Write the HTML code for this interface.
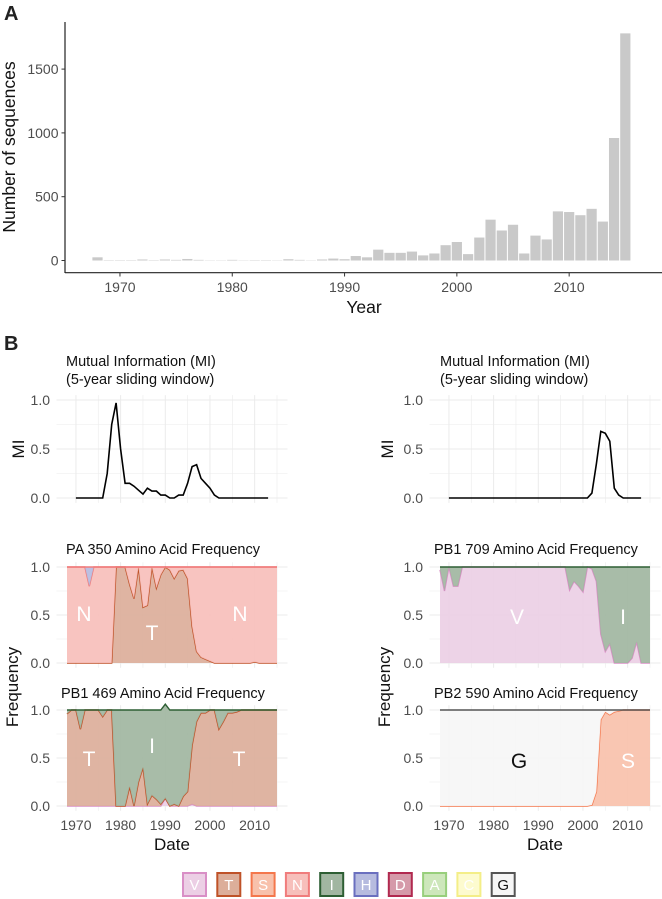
<!DOCTYPE html>
<html><head><meta charset="utf-8"><style>
html,body{margin:0;padding:0;background:#fff;}
svg{display:block;font-family:"Liberation Sans",Arial,sans-serif;}
</style></head><body>
<svg id="fig" width="662" height="899" viewBox="0 0 662 899" xmlns="http://www.w3.org/2000/svg"></svg>
<script>
// ---------- Panel A data ----------
const years = [];
for (let y = 1968; y <= 2015; y++) years.push(y);
const seqCounts = [25,3,3,3,8,3,8,5,12,5,2,2,5,2,3,3,2,10,5,2,8,15,10,35,25,85,60,60,70,40,55,120,145,50,180,320,235,280,55,195,165,385,380,355,405,305,960,1780];
const countTicks = [0,500,1000,1500];
const yearTicks = [1970,1980,1990,2000,2010];

// ---------- Panel B data ----------
const miYears = [];
for (let y = 1970; y <= 2013; y++) miYears.push(y);
const miLeft = [0,0,0,0,0,0,0,0.25,0.75,0.97,0.5,0.15,0.15,0.12,0.08,0.04,0.1,0.07,0.07,0.03,0.03,0,0,0.03,0.03,0.15,0.32,0.34,0.2,0.15,0.1,0.03,0,0,0,0,0,0,0,0,0,0,0,0];
const miRight = [0,0,0,0,0,0,0,0,0,0,0,0,0,0,0,0,0,0,0,0,0,0,0,0,0,0,0,0,0,0,0,0,0.05,0.35,0.68,0.66,0.58,0.1,0.03,0,0,0,0,0];
const freqTicks = [0,0.5,1];
const dateTicks = [1970,1980,1990,2000,2010];

// PA 350 (stack bottom->top: T, N, H)
const pa350T = [0,0,0,0,0,0,0,0,0,0,0,1,1,1,0.82,0.67,1,0.58,0.6,1,0.78,0.92,1,0.97,0.88,0.96,0.97,0.88,0.38,0.12,0.06,0.04,0.02,0,0,0,0,0,0,0,0,0,0.01,0,0,0,0,0];
const pa350H = [0,0,0,0,0,0.2,0,0,0,0,0,0,0,0,0,0,0,0,0,0,0,0,0,0,0,0,0,0,0,0,0,0,0,0,0,0,0,0,0,0,0,0,0,0,0,0,0,0];
// PB1 469 (stack: V, T, I)
const pb469V = [0,0,0,0,0,0,0,0,0,0,0,0,0,0,0,0,0,0,0,0,0,0,0.08,0,0,0,0,0,0.02,0,0,0,0,0,0,0,0,0,0,0,0,0,0,0,0,0,0,0];
const pb469T = [0.96,1,1,0.8,1,1,1,1,0.93,1,1,0,0,0,0.2,0,0.25,0.4,0.02,0.11,0.07,0.02,0.02,0,0.02,0,0.1,0.15,0.63,0.88,0.97,0.97,1,1,0.8,0.88,0.97,0.97,0.98,1,1,1,1,1,1,1,1,1];
// PB1 709 (stack: V, I)
const pb709V = [0.97,0.75,1,0.8,0.8,1,1,1,1,1,1,1,1,1,1,1,1,1,1,1,1,1,1,1,1,1,1,1,1,0.76,0.85,0.8,0.74,1,0.98,0.85,0.3,0.12,0.2,0,0,0,0,0.05,0.22,0,0,0];
// PB2 590 (stack: S, G)
const pb590S = [0,0,0,0,0,0,0,0,0,0,0,0,0,0,0,0,0,0,0,0,0,0,0,0,0,0,0,0,0,0,0,0,0,0,0.01,0.15,0.9,0.98,0.95,0.98,0.99,1,1,1,1,1,1,1];

const legendKeys = ['V','T','S','N','I','H','D','A','C','G'];
const COL = {
  V:{f:'#eccfe5',s:'#d98fc6'}, T:{f:'#dcae9a',s:'#bf5228'}, S:{f:'#f8c1ab',s:'#f4774c'},
  N:{f:'#f7bfbb',s:'#f07c7c'}, I:{f:'#a1b6a1',s:'#2d5e33'}, H:{f:'#b6bbdf',s:'#6a6fbf'},
  D:{f:'#d59aa9',s:'#b1294f'}, A:{f:'#cde7bb',s:'#98cf7c'}, C:{f:'#fdfbcf',s:'#f4ee88'},
  G:{f:'#f6f6f6',s:'#555555'}
};

const NS = 'http://www.w3.org/2000/svg';
const svg = document.getElementById('fig');
function el(tag, attrs, parent, text) {
  const e = document.createElementNS(NS, tag);
  for (const k in attrs) e.setAttribute(k, attrs[k]);
  if (text !== undefined) e.textContent = text;
  (parent || svg).appendChild(e);
  return e;
}

// ---------- Panel A ----------
const gA = el('g', {});


const ax = y => 97.5 + (y - 1968) * 11.23;
const ay = v => 260.5 - v * 0.1276;
const lblA = el('text', {x:4, y:20, 'font-size':20, 'font-weight':'bold', fill:'#222'}, gA, 'A');


years.forEach((yr, i) => {
  const r = el('rect', {x:ax(yr) - 5.1, y:ay(seqCounts[i]), width:10.2, height:Math.max(0, 260.5 - ay(seqCounts[i])), fill:'#c9c9c9'}, gA);
  
  
});
el('line', {x1:65, y1:22, x2:65, y2:273, stroke:'#222', 'stroke-width':1.2}, gA);
el('line', {x1:65, y1:272.7, x2:662, y2:272.7, stroke:'#222', 'stroke-width':1.2}, gA);
countTicks.forEach(t => {
  el('line', {x1:61.5, y1:ay(t), x2:65, y2:ay(t), stroke:'#333'}, gA);
  const tx = el('text', {x:58.5, y:ay(t) + 5, 'font-size':14, 'text-anchor':'end', fill:'#4d4d4d'}, gA, String(t));
  
  
});
yearTicks.forEach(t => {
  el('line', {x1:ax(t), y1:272.7, x2:ax(t), y2:276.5, stroke:'#333'}, gA);
  const tx = el('text', {x:ax(t), y:292, 'font-size':14, 'text-anchor':'middle', fill:'#4d4d4d'}, gA, String(t));
  
  
});
const yt = el('text', {x:0, y:0, 'font-size':17.5, 'text-anchor':'middle', fill:'#111', transform:'translate(15,147) rotate(-90)'}, gA, 'Number of sequences');


const xt = el('text', {x:364, y:313, 'font-size':17.5, 'text-anchor':'middle', fill:'#111'}, gA, 'Year');



// ---------- Panel B ----------
const lblB = el('text', {x:4, y:350, 'font-size':20, 'font-weight':'bold', fill:'#222'}, svg, 'B');



function panel(x0, yTop, yBot, name) {
  const g = el('g', {});
  
  
  const px = yr => x0 + (yr - 1968) * 4.468;
  const py = v => yBot - v * (yBot - yTop);
  const pad = (yBot - yTop) * 0.05;
  const L = px(1968) - 10.5, R = px(2015) + 10.5;
  for (let yr = 1965; yr <= 2015; yr += 5) {
    const xx = px(yr); if (xx < L || xx > R) continue;
    el('line', {x1:xx, y1:yTop - pad, x2:xx, y2:yBot + pad, stroke:'#ebebeb', 'stroke-width':(yr % 10 === 0) ? 1 : 0.6}, g);
  }
  [0,0.25,0.5,0.75,1].forEach(v => {
    el('line', {x1:L, y1:py(v), x2:R, y2:py(v), stroke:'#ebebeb', 'stroke-width':(v * 4 % 2 === 0) ? 1 : 0.6}, g);
  });
  freqTicks.forEach(v => {
    const t = el('text', {x:x0 - 17, y:py(v) + 5, 'font-size':14, 'text-anchor':'end', fill:'#4d4d4d'}, g, v.toFixed(1));
    
    
  });
  return {g, px, py};
}

function title(x, y, lines, name) {
  lines.forEach((s, i) => {
    const t = el('text', {x:x, y:y + i * 18, 'font-size':14.5, fill:'#111'}, svg, s);
    
    
  });
}

function miPanel(x0, vals, name) {
  const p = panel(x0, 400, 498, name);
  const pts = miYears.map((yr, i) => p.px(yr).toFixed(1) + ',' + p.py(vals[i]).toFixed(1)).join(' ');
  const ln = el('polyline', {points:pts, fill:'none', stroke:'#000', 'stroke-width':1.6}, p.g);
  
  
}

function stackPanel(x0, yTop, yBot, layers, name, labels, showX) {
  const p = panel(x0, yTop, yBot, name);
  let base = years.map(() => 0);
  layers.forEach(layer => {
    const top = base.map((b, i) => b + layer.v[i]);
    let d = 'M' + years.map((yr, i) => p.px(yr).toFixed(1) + ',' + p.py(top[i]).toFixed(1)).join('L');
    for (let i = years.length - 1; i >= 0; i--) d += 'L' + p.px(years[i]).toFixed(1) + ',' + p.py(base[i]).toFixed(1);
    d += 'Z';
    const c = COL[layer.k];
    const a = el('path', {d:d, fill:c.f, 'fill-opacity':0.92, stroke:'none'}, p.g);
    
    
    const l = el('polyline', {points:years.map((yr, i) => p.px(yr).toFixed(1) + ',' + p.py(top[i]).toFixed(1)).join(' '), fill:'none', stroke:layer.s || c.s, 'stroke-width':1.4}, p.g);
    
    
    base = top;
  });
  labels.forEach(lb => {
    const t = el('text', {x:lb[1], y:lb[2], 'font-size':21, 'text-anchor':'middle', fill:lb[3] || '#fff'}, p.g, lb[0]);
    
    
  });
  if (showX) {
    dateTicks.forEach(t => {
      const tx = el('text', {x:p.px(t), y:yBot + 24, 'font-size':14, 'text-anchor':'middle', fill:'#4d4d4d'}, p.g, String(t));
      
      
    });
    const dt = el('text', {x:p.px(1991.5), y:yBot + 44, 'font-size':17, 'text-anchor':'middle', fill:'#111'}, p.g, 'Date');
    
    
  }
}

// Left column
title(66, 366, ['Mutual Information (MI)', '(5-year sliding window)'], 'mi-title-left');
miPanel(67, miLeft, 'mi-panel-left');
title(66, 554, ['PA 350 Amino Acid Frequency'], 'pa350-title');
stackPanel(67, 567, 663, [
  {k:'T', v:pa350T},
  {k:'N', v:pa350T.map((t, i) => 1 - t - pa350H[i])},
  {k:'H', v:pa350H, s:'#f07c7c'}
], 'pa350-panel', [['N',84,621],['T',152,640],['N',240,621]], false);
title(61, 698, ['PB1 469 Amino Acid Frequency'], 'pb469-title');
stackPanel(67, 710, 806, [
  {k:'V', v:pb469V},
  {k:'T', v:pb469T.map((t, i) => Math.max(0, t - pb469V[i]))},
  {k:'I', v:pb469T.map(t => 1 - t)}
], 'pb469-panel', [['T',89,766],['I',152,753],['T',239,766]], true);

// Right column
title(440, 366, ['Mutual Information (MI)', '(5-year sliding window)'], 'mi-title-right');
miPanel(440, miRight, 'mi-panel-right');
title(434, 554, ['PB1 709 Amino Acid Frequency'], 'pb709-title');
stackPanel(440, 567, 663, [
  {k:'V', v:pb709V},
  {k:'I', v:pb709V.map(v => 1 - v)}
], 'pb709-panel', [['V',517,624],['I',623,624]], false);
title(434, 698, ['PB2 590 Amino Acid Frequency'], 'pb590-title');
stackPanel(440, 710, 806, [
  {k:'S', v:pb590S},
  {k:'G', v:pb590S.map(s => 1 - s)}
], 'pb590-panel', [['G',519,768,'#111'],['S',628,768]], true);

// y-axis titles
[['MI',24,449,'mi-axis-title-left'],['MI',393,449,'mi-axis-title-right'],['Frequency',18,687,'frequency-axis-title-left'],['Frequency',390,687,'frequency-axis-title-right']].forEach(a => {
  const t = el('text', {x:0, y:0, 'font-size':17, 'text-anchor':'middle', fill:'#111', transform:'translate(' + a[1] + ',' + a[2] + ') rotate(-90)'}, svg, a[0]);
  
  
});

// Legend
const gL = el('g', {});


legendKeys.forEach((k, i) => {
  const x = 182 + i * 34.3;
  const c = COL[k];
  const r = el('rect', {x:x + 1, y:873, width:23, height:23, fill:c.f, stroke:c.s, 'stroke-width':2}, gL);
  
  
  const t = el('text', {x:x + 12.5, y:890, 'font-size':15, 'text-anchor':'middle', fill:k === 'G' ? '#111' : '#fff'}, gL, k);
  
  
});
</script>
</body></html>
